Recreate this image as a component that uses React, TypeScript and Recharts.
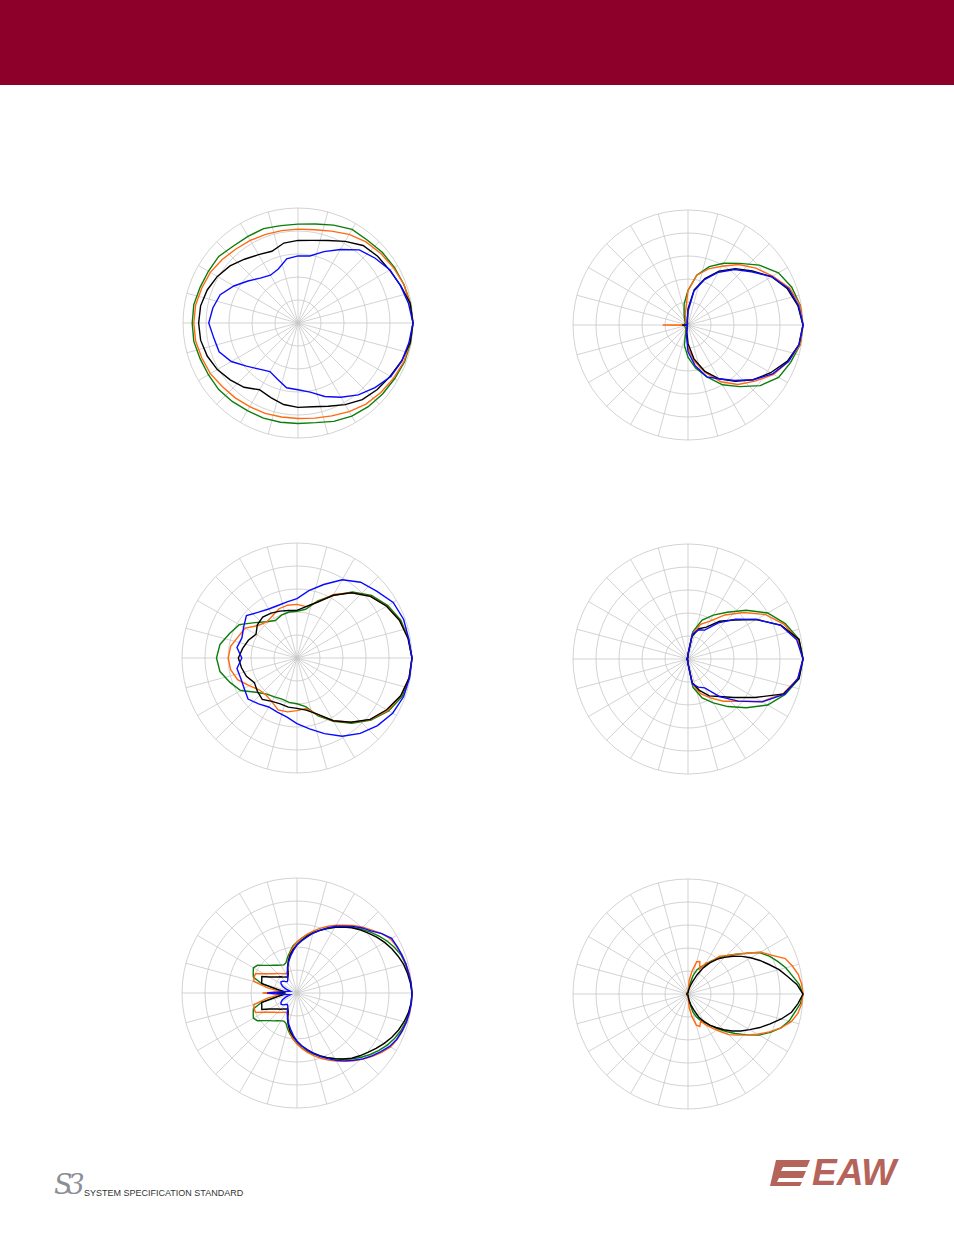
import React from "react"
import { RadarChart, Radar, PolarGrid, PolarAngleAxis, PolarRadiusAxis } from "recharts"

// angles in degrees, counter-clockwise from the right (on-axis = 0)
const ANG10 = [0,10,20,30,40,50,60,70,80,90,100,110,120,130,140,150,160,170,180,190,200,210,220,230,240,250,260,270,280,290,300,310,320,330,340,350]
const ANG5 = [0,5,10,15,20,25,30,35,40,45,50,55,60,65,70,75,80,85,90,95,100,105,110,115,120,125,130,135,140,145,150,155,160,165,170,175,180,185,190,195,200,205,210,215,220,225,230,235,240,245,250,255,260,265,270,275,280,285,290,295,300,305,310,315,320,325,330,335,340,345,350,355]
const SPOKES = [0,15,30,45,60,75,90,105,120,135,150,165,180,195,210,225,240,255,270,285,300,315,330,345]

// radius: 50 = outer ring, 10 per ring
const P1_GREEN = [50,49.6,49,48.4,47.8,47,47,45.3,43.7,43,43,43.7,43.5,43.7,45,45,45.3,46,46,46,45.3,45,45,44.5,44,44,43.8,43.7,44,45.5,46.8,47.5,48,48.5,49.3,49.7]
const P1_ORANGE = [50,49.5,49,48,47,46,44.5,42.5,41.2,40.8,40.8,41,41.5,42,43,44,44.5,45.2,45.3,45.2,44.5,44,43,42.5,42,41.8,41.5,41.5,42,43,44.5,46,47,48,49,49.5]
const P1_BLACK = [50,49.5,47.5,46,45.2,44,41,38.2,36.5,35.9,35.3,33.2,34.3,36.2,38.6,40.5,42,43,43.2,43,42,40.5,38.5,36.5,33.5,34.5,36,36.7,37,38.5,41,43.5,45,46.3,48,49.5]
const P1_BLUE = [50,48.8,47.4,46.2,43.8,41.5,36.9,33,29.6,29.2,28.3,25,24,25.5,28.4,32.2,36,37.6,38.8,37.2,36.5,33.5,29.2,26.2,24.4,26,28.6,29,30.5,34,37.3,40.8,43.7,46.6,48.1,49]

const P2_GREEN = [50,49.5,48,45.4,40.5,35,31,27,22,15,9.5,5,3,2,1.5,1.5,1.5,1.5,2.5,1.5,1.5,1.5,1.5,1.5,2,3,9,14,19,24,30,35,41,45.5,47.5,49.5]
const P2_ORANGE = [50,49.5,47,42.5,38.5,34.3,29.5,26,22,15,6,3,2,1,1,1,1,1,11,1,1,1,1,1,1,2,4,10,16,22,28.5,33.8,38,43,46.5,49.5]
const P2_BLACK = [50,48.5,46,42,36.5,32,27,21.5,15.5,7,1.5,0.5,0.5,0.5,0.5,0.5,0.5,0.5,2.5,0.5,0.5,0.5,0.5,0.5,0.5,1,3,8,15,21.5,27,32,37,41.5,46,49]
const P2_BLUE = [50,48.8,46.5,42,36,31.5,26.5,21,15,6,2,1,0.5,0.5,0.5,0.5,0.5,0.5,1.5,0.5,0.5,0.5,0.5,0.5,0.5,1,4,11.5,18,24,27,31.5,37,42.5,46.5,49]

const P3_GREEN = [50,49.2,48,45.6,42.3,37.5,31.4,26.4,21.5,20.3,20.3,19.8,18.8,20.6,23.9,29,31.2,34,35,34,31,28.3,23.2,20.5,19.5,19,19.6,19.9,21.5,26.8,31.8,37,42,46,48.7,49.5]
const P3_ORANGE = [50,49.2,47.5,45,41.7,37,31.9,26,22.7,23.3,23.3,22.8,21.2,20.5,22,26,27.2,29.3,29.9,29.3,27.5,24,21.5,21,21.9,24,23.8,22.9,22.3,26.2,31.5,36.5,41.7,45.5,48,49.5]
const P3_BLACK = [50,49,47.5,45,41.7,37,31.5,25.8,22.7,20.7,21,21.7,22.5,23.2,22.5,20.6,22.5,24,25.5,24.5,23.4,21.4,22.5,23.5,21.8,21.2,21.7,21.9,23,26,31.5,36.5,41.5,45,48,49.5]
const P3_BLUE = [50,49.3,49.3,48.3,45.2,43,39.3,34,29.7,25.8,24.8,24.3,24.6,26,28.7,26.8,25.5,26.5,24,26.5,26,26.5,27.8,26,24.6,25,26,28.5,31.3,35,39.3,42.8,45.7,48,49.3,49.7]

const P4_GREEN = [50,49,45,40,33,26.5,22,18,12,2,0.5,0.5,0.5,0.5,0.5,0.5,0.5,0.5,0.5,0.5,0.5,0.5,0.5,0.5,0.5,0.5,0.5,2,12.5,18,22,27,33,40,45,49]
const P4_ORANGE = [50,48.5,44.3,38.7,31.4,25,19,16,11,2,0.5,0.5,0.5,0.5,0.5,0.5,0.5,0.5,0.5,0.5,0.5,0.5,0.5,0.5,0.5,0.5,0.5,1.5,11,16,19.5,24,28.6,37,44,48.5]
const P4_BLACK = [50,49,43,34.3,26.4,21.4,16,14,10,2,0.5,0.5,0.5,0.5,0.5,0.5,0.5,0.5,0.5,0.5,0.5,0.5,0.5,0.5,0.5,0.5,0.5,2,10.5,14.5,18.5,21.3,26,33.5,44.3,49]
const P4_BLUE = [50,48,42.8,34.5,27,20.5,14.5,13.5,11,2,0.5,0.5,0.5,0.5,0.5,0.5,0.5,0.5,0.5,0.5,0.5,0.5,0.5,0.5,0.5,0.5,0.5,2,11,13,14.5,21.4,28.5,37.3,44.7,48.5]

const P5_GREEN = [50,49.7,49.3,48.8,48.2,46.8,45.2,43.3,41.4,39.2,37.3,35,33,30.8,29,27.5,25.7,24,22.2,20.5,18,16,14,13.5,14,14.7,15.8,17,18.7,21,21.9,21,20.2,16,9,6,9,6,9,16,20.2,21,21.9,21,18.7,17,15.8,14.7,14,13.5,14,16,18,20,22,24,25.8,27.5,29.2,31,33,35.2,37.4,39.5,41.6,43.5,45.3,46.8,48,48.9,49.5,49.9]
const P5_ORANGE = [50,49.8,49.5,49,48.5,47.8,47,45,42.5,40.5,38.3,36,34,32,30,28,26,24,22.2,20,17.5,14.5,11.5,9.5,9.7,10.3,11,12,13,14.6,16.8,19.9,19.9,19.4,13,7,15,7,13,19.4,19.9,19.9,16.8,14.6,13,12,11,10.3,9.7,9.5,11.5,14.5,17.5,20,22.2,24.2,26.2,28.2,30.2,32.2,34.2,36.3,38.5,40.7,42.8,45,47,48,48.7,49.3,49.7,49.9]
const P5_BLACK = [50,49.5,48.8,48,46.8,45.5,44,42.3,40.5,38.8,37,35,33,31,29,27,25,23,21,19,17,14.5,12,9,8,8.5,9,10,10.8,12.1,13.9,16.9,16.3,15.9,8,5,9,5,8,15.9,16.3,16.9,13.9,12.1,10.8,10,9,8.5,8,9,12,14.5,17,19,21,23,25,27,29,31,33,35,37,38.6,40.2,42,43.8,45.5,47,48.2,49.2,49.8]
const P5_BLUE = [50,49.8,49.3,49,48.5,48,47.5,45,42,40,37.8,35.5,33.5,31.2,29,27,24.6,22.7,20.9,18.5,16.2,14,12,10,8,7,6.5,7,8,8.5,8,7,5,3,4,6,13,6,4,3,5,7,8,8.5,8,7,6.5,7,8,10,12,14,16,18.5,21,23,25,27.2,29.3,31.5,33.8,36,38.2,40.5,42.5,44.5,46.5,47.8,48.6,49.2,49.6,49.9]

const P6_GREEN = [50,48.5,46,44,41.5,39,36,31,26.7,23.5,20.3,17.5,14.5,13,11,8,4,2,0.5,0.5,0.5,0.5,0.5,0.5,0.5,0.5,0.5,0.5,0.5,0.5,0.5,0.5,0.5,0.5,0.5,0.5,0.5,0.5,0.5,0.5,0.5,0.5,0.5,0.5,0.5,0.5,0.5,0.5,0.5,0.5,0.5,0.5,0.5,0.5,0.5,2,4,8,10.5,12.5,13.5,16.5,19.6,23,26.7,31,35.7,39.5,43,45.5,47,49]
const P6_ORANGE = [50,49.6,48.7,47,45,40,36.5,30.7,27,23.5,21.4,17,15.5,12,15,14.5,10,6,1,0.5,0.5,0.5,0.5,0.5,0.5,0.5,0.5,0.5,0.5,0.5,0.5,0.5,0.5,0.5,0.5,0.5,0.5,0.5,0.5,0.5,0.5,0.5,0.5,0.5,0.5,0.5,0.5,0.5,0.5,0.5,0.5,0.5,0.5,0.5,1,6,10,14,15,13,15.5,18,21,25,27.8,31,35,39,43,46.5,48.5,49.6]
const P6_BLACK = [50,47.5,44,41,37.5,34.5,31.5,28.5,25.5,22.5,19.8,16.5,13,9,5.5,3.5,2,1,0.5,0.5,0.5,0.5,0.5,0.5,0.5,0.5,0.5,0.5,0.5,0.5,0.5,0.5,0.5,0.5,0.5,0.5,0.5,0.5,0.5,0.5,0.5,0.5,0.5,0.5,0.5,0.5,0.5,0.5,0.5,0.5,0.5,0.5,0.5,0.5,0.5,1,3,5,7.5,11,14,16.5,19,22,25,28,31,34.5,38,42,45.7,48]

const C_GREEN = "#0b7d0b"
const C_ORANGE = "#ff6a10"
const C_BLACK = "#000000"
const C_BLUE = "#0a0aff"

type Series = { g: number[]; o: number[]; k: number[]; b?: number[] }

function buildRows(angles: number[], s: Series) {
  return angles.map((a, i) => ({ a, g: s.g[i], o: s.o[i], k: s.k[i], b: s.b ? s.b[i] : undefined }))
}

function Polar({ cx, cy, angles, s }: { cx: number; cy: number; angles: number[]; s: Series }) {
  const rows = buildRows(angles, s)
  return (
    <div style={{ position: "absolute", left: cx - 130, top: cy - 130, width: 260, height: 260 }}>
      <RadarChart width={260} height={260} cx={130} cy={130} outerRadius={115} startAngle={0} endAngle={360}
        data={rows} margin={{ top: 0, right: 0, bottom: 0, left: 0 }}>
        <PolarGrid gridType="circle" polarAngles={SPOKES} stroke="#c8c8c8" strokeWidth={0.8} />
        <PolarAngleAxis dataKey="a" type="number" domain={[0, 360]} tick={false} tickLine={false} axisLine={false} />
        <PolarRadiusAxis type="number" domain={[0, 50]} tickCount={6} tick={false} tickLine={false} axisLine={false} />
        <Radar dataKey="g" stroke={C_GREEN} strokeWidth={1.4} fill="none" fillOpacity={0} dot={false} isAnimationActive={false} />
        <Radar dataKey="o" stroke={C_ORANGE} strokeWidth={1.4} fill="none" fillOpacity={0} dot={false} isAnimationActive={false} />
        <Radar dataKey="k" stroke={C_BLACK} strokeWidth={1.4} fill="none" fillOpacity={0} dot={false} isAnimationActive={false} />
        {s.b && <Radar dataKey="b" stroke={C_BLUE} strokeWidth={1.4} fill="none" fillOpacity={0} dot={false} isAnimationActive={false} />}
      </RadarChart>
    </div>
  )
}

export default function App() {
  return (
    <div style={{ position: "relative", width: 954, height: 1235, background: "#fff", overflow: "hidden" }}>
      <style>{"body{margin:0}"}</style>
      <div style={{ position: "absolute", left: 0, top: 0, width: 954, height: 85, background: "#8c0029" }} />

      <Polar cx={297.5} cy={323} angles={ANG10} s={{ g: P1_GREEN, o: P1_ORANGE, k: P1_BLACK, b: P1_BLUE }} />
      <Polar cx={688} cy={324.5} angles={ANG10} s={{ g: P2_GREEN, o: P2_ORANGE, k: P2_BLACK, b: P2_BLUE }} />
      <Polar cx={297} cy={657.5} angles={ANG10} s={{ g: P3_GREEN, o: P3_ORANGE, k: P3_BLACK, b: P3_BLUE }} />
      <Polar cx={687.5} cy={659} angles={ANG10} s={{ g: P4_GREEN, o: P4_ORANGE, k: P4_BLACK, b: P4_BLUE }} />
      <Polar cx={297} cy={992.5} angles={ANG5} s={{ g: P5_GREEN, o: P5_ORANGE, k: P5_BLACK, b: P5_BLUE }} />
      <Polar cx={688} cy={993.5} angles={ANG5} s={{ g: P6_GREEN, o: P6_ORANGE, k: P6_BLACK }} />

      {/* footer logos */}
      <div style={{ position: "absolute", left: 54, top: 1170, fontFamily: "'DejaVu Serif', serif", fontStyle: "italic", fontSize: 27, letterSpacing: -5, color: "#8a8f96", lineHeight: "30px", whiteSpace: "nowrap" }}>
        S3
      </div>
      <div style={{ position: "absolute", left: 84, top: 1188, fontFamily: "'Liberation Sans', Arial, sans-serif", fontSize: 9, color: "#333", whiteSpace: "nowrap" }}>
        SYSTEM SPECIFICATION STANDARD
      </div>
      <svg style={{ position: "absolute", left: 768, top: 1146 }} width={170} height={48}>
        <path d="M8 14 L42 14 L39 21 L15 21 L13 25 L38 25 L35 32 L11 32 L9 36 L34 36 L32 40 L2 40 Z" fill="#b4645a" />
        <text x={44} y={39} fontFamily="'Liberation Sans', Arial, sans-serif" fontWeight={700} fontStyle="italic" fontSize={37} fill="#b4645a">EAW</text>
      </svg>
    </div>
  )
}
